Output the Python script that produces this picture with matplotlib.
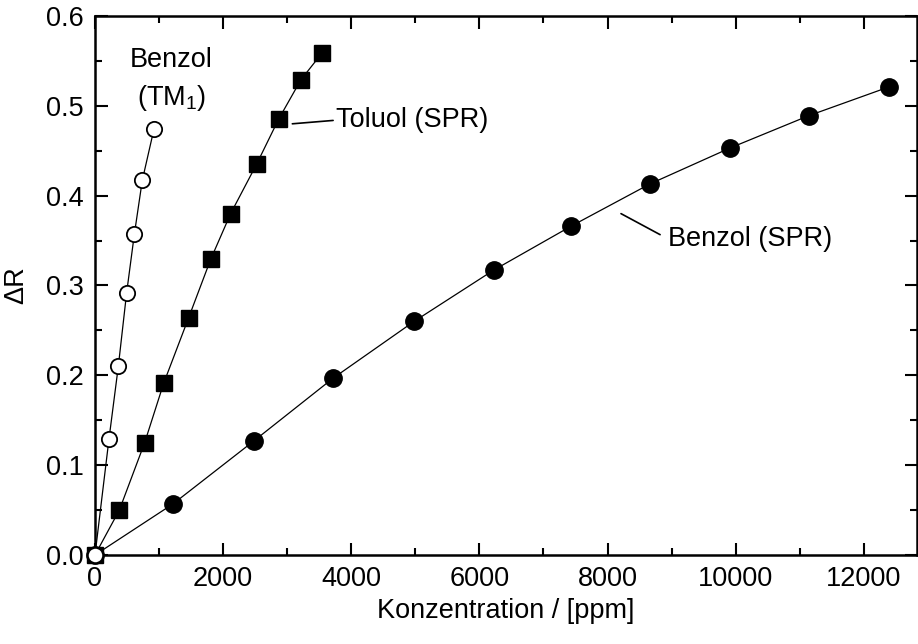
import numpy as np
import matplotlib
matplotlib.use("Agg")
import matplotlib.pyplot as plt
from matplotlib.ticker import MultipleLocator

plt.rcParams['font.family'] = ['Liberation Sans', 'DejaVu Sans']

# Benzol (SPR), filled circles
benzol_spr_x = [0, 1220, 2480, 3720, 4980, 6220, 7430, 8660, 9910, 11140, 12390]
benzol_spr_y = [0.0, 0.057, 0.127, 0.197, 0.260, 0.317, 0.366, 0.413, 0.453, 0.489, 0.521]

# Toluol (SPR), filled squares
toluol_spr_x = [0, 380, 775, 1071, 1461, 1805, 2117, 2522, 2865, 3214, 3546]
toluol_spr_y = [0.0, 0.050, 0.125, 0.191, 0.264, 0.329, 0.380, 0.435, 0.485, 0.529, 0.559]

# Benzol (TM1), open circles
benzol_tm_x = [0, 218, 364, 494, 614, 738, 920]
benzol_tm_y = [0.0, 0.129, 0.210, 0.292, 0.357, 0.417, 0.474]

fs = 19.5

fig = plt.figure(figsize=(9.18, 6.44), dpi=100)
ax = fig.add_axes([95 / 918, 89 / 644, (917 - 95) / 918, (555 - 16) / 644])

ax.plot(benzol_spr_x, benzol_spr_y, '-o', color='black', lw=0.9,
        ms=12.5, mfc='black', mec='black', zorder=3, clip_on=False)
ax.plot(toluol_spr_x, toluol_spr_y, '-s', color='black', lw=0.9,
        ms=11.5, mfc='black', mec='black', zorder=4, clip_on=False)
ax.plot(benzol_tm_x, benzol_tm_y, '-o', color='black', lw=0.9,
        ms=11, mfc='white', mec='black', mew=1.3, zorder=5, clip_on=False)

ax.set_xlim(0, 12830)
ax.set_ylim(0, 0.6)
ax.xaxis.set_major_locator(MultipleLocator(2000))
ax.xaxis.set_minor_locator(MultipleLocator(1000))
ax.yaxis.set_major_locator(MultipleLocator(0.1))
ax.yaxis.set_minor_locator(MultipleLocator(0.05))
ax.yaxis.set_major_formatter(matplotlib.ticker.FormatStrFormatter('%.1f'))

ax.tick_params(which='both', direction='in', top=True, right=True,
               labelsize=fs, width=1.5, pad=8)
ax.tick_params(which='major', length=9)
ax.tick_params(which='minor', length=5)
for s in ax.spines.values():
    s.set_linewidth(1.8)

ax.set_xlabel('Konzentration / [ppm]', fontsize=fs, labelpad=4)
ax.set_ylabel('ΔR', fontsize=fs, labelpad=12)

# annotations
ax.text(1190, 0.551, 'Benzol', fontsize=fs, ha='center', va='center')
ax.text(1190, 0.509, '(TM$_\\mathregular{1}$)', fontsize=fs, ha='center', va='center')

ax.annotate('Toluol (SPR)', xy=(3080, 0.480), xytext=(3760, 0.484),
            fontsize=fs, ha='left', va='center',
            arrowprops=dict(arrowstyle='-', color='black', lw=1.2,
                            shrinkA=0, shrinkB=0, relpos=(0, 0.5)))
ax.annotate('Benzol (SPR)', xy=(8210, 0.380), xytext=(8940, 0.352),
            fontsize=fs, ha='left', va='center',
            arrowprops=dict(arrowstyle='-', color='black', lw=1.2,
                            shrinkA=4, shrinkB=0, relpos=(0, 0.5)))

fig.savefig('out.png', dpi=100)
